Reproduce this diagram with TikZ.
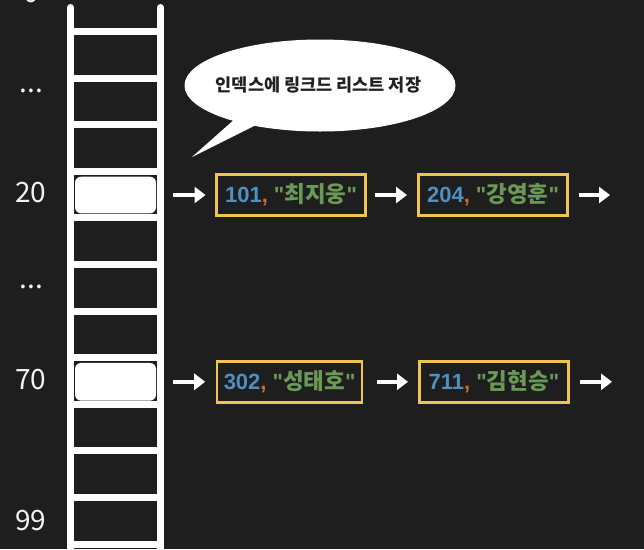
\documentclass[tikz,border=0pt]{standalone}
\usepackage{fontspec}
\setmainfont{Noto Sans CJK KR}
\newfontfamily\krfam{Noto Sans CJK KR}
\newfontfamily\latfam{Liberation Sans}
\usetikzlibrary{arrows.meta}
\definecolor{bg}{RGB}{30,30,30}
\definecolor{yel}{RGB}{240,196,82}
\definecolor{nb}{RGB}{78,143,196}
\definecolor{cm}{RGB}{206,110,38}
\definecolor{sg}{RGB}{106,153,85}
\definecolor{lblc}{RGB}{242,242,242}
\definecolor{dk}{RGB}{34,34,34}
\tikzset{
  rail/.style={draw=white, line width=7pt},
  slot/.style={fill=white, rounded corners=6pt, minimum width=81pt, inner sep=0pt, outer sep=0pt},
  lbl/.style={text=lblc, inner sep=0pt, font=\krfam\fontsize{28}{30}\selectfont},
  lbox/.style={draw=yel, line width=2.5pt, fill=bg, minimum width=149pt, minimum height=41pt, inner sep=0pt, outer sep=0pt},
  arr/.style={draw=white, line width=3.5pt, -{Triangle[length=11pt,width=16pt]}},
}
\newcommand{\entry}[2]{{\latfam\bfseries\fontsize{22}{24}\selectfont\color{nb}#1\color{cm},\color{sg}\ "{\krfam\bfseries\fontsize{22.5}{24}\selectfont #2}"}}
\begin{document}
\begin{tikzpicture}[x=1pt,y=-1pt]
\fill[bg] (0,0) rectangle (644,549);
\useasboundingbox (0,0) rectangle (644,549);
\begin{scope}
\clip (0,0) rectangle (644,549);
% rails
\draw[rail, line cap=round] (70.5,7.5) -- (70.5,560);
\draw[rail, line cap=round] (160.5,7.5) -- (160.5,560);
% rungs
\foreach \i in {0,...,11}{
  \draw[rail] (70.5,31.5+46.6*\i) -- (160.5,31.5+46.6*\i);
}
\node[lbl] (l0) at (31,-7) {0};
\end{scope}
% slots
\node[slot, minimum height=36.6pt] (s20) at (115.5,195) {};
\node[slot, minimum height=37.7pt] (s70) at (115.5,381.8) {};
% labels
\node[lbl, anchor=base] (d1) at (31.5,92) {...};
\node[lbl] (l20) at (31,193) {20};
\node[lbl, anchor=base] (d2) at (31.5,288) {...};
\node[lbl] (l70) at (31,380) {70};
\node[lbl] (l99) at (31,521) {99};
% speech bubble
\fill[white] (320,85.5) ellipse [x radius=135.5, y radius=46];
\coordinate (tip) at (192,157);
\fill[white] (236,118) -- (258,124) -- (tip) -- cycle;
\node[text=dk, inner sep=0pt, font=\krfam\bfseries\fontsize{17.5}{20}\selectfont] (bub) at (318.5,85) {인덱스에 링크드 리스트 저장};
% boxes
\node[lbox] (b1) at (291,195) {\entry{101}{최지웅}};
\node[lbox] (b2) at (493,195) {\entry{204}{강영훈}};
\node[lbox, minimum width=145pt] (b3) at (289.7,381.8) {\entry{302}{성태호}};
\node[lbox] (b4) at (494,381.8) {\entry{711}{김현승}};
\coordinate (e1) at (610,195);
\coordinate (e2) at (612,381.8);
% arrows
\draw[arr, shorten <=17pt, shorten >=11pt] (s20.east) -- (b1.west);
\draw[arr, shorten <=9.5pt, shorten >=11.5pt] (b1.east) -- (b2.west);
\draw[arr, shorten <=11pt] (b2.east) -- (e1);
\draw[arr, shorten <=17pt, shorten >=12pt] (s70.east) -- (b3.west);
\draw[arr, shorten <=15pt, shorten >=11.5pt] (b3.east) -- (b4.west);
\draw[arr, shorten <=11pt] (b4.east) -- (e2);
\end{tikzpicture}
\end{document}
